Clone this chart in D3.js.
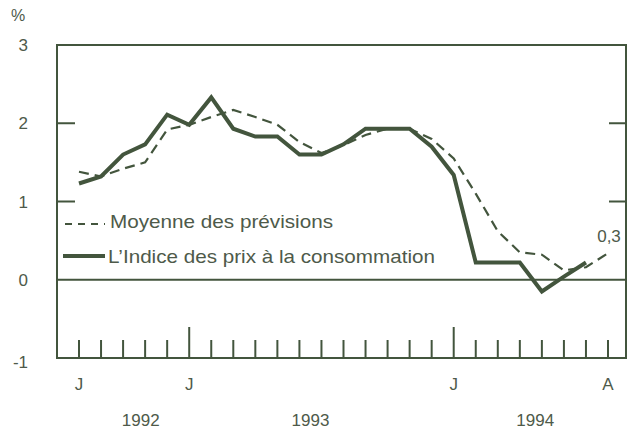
<!DOCTYPE html>
<html>
<head>
<meta charset='utf-8'>
<title>Indice des prix et prévisions</title>
<script src='https://d3js.org/d3.v7.min.js'></script>
<style>
  body {margin:0; background:#fff;}
  svg text {font-family:'Liberation Sans',Arial,sans-serif; fill:#4e5a4a;}
</style>
</head>
<body>
<svg id='chart' width='628' height='434'></svg>
<script>
// monthly values, index 0 = first tick
var cpi=[1.23,1.32,1.6,1.73,2.11,1.98,2.33,1.93,1.83,1.83,1.6,1.6,1.73,1.93,1.93,1.93,1.7,1.34,
         0.22,0.22,0.22,-0.15,0.04,0.22];
var forecast=[1.38,1.32,1.42,1.5,1.92,1.98,2.08,2.17,2.08,1.98,1.76,1.62,1.72,1.85,1.93,1.93,1.8,1.55,
              1.1,0.62,0.35,0.32,0.12,0.16,0.34];
var yTicks=[3,2,1,0,-1];
var monthLabels=[{i:0,t:'J'},{i:5,t:'J'},{i:17,t:'J'},{i:24,t:'A'}];
var yearLabels=[{i:2.8,t:'1992'},{i:10.5,t:'1993'},{i:20.7,t:'1994'}];
var bigTicks=[5,17];
var legendItems=['Moyenne des prévisions','L\u2019Indice des prix à la consommation'];

var ink='#43553d';
var svg=d3.select('#chart');
var x=d3.scaleLinear().domain([0,24]).range([79,608]);
var y=d3.scaleLinear().domain([-1,3]).range([358,45]);
var L=57,R=626;

// frame
svg.append('rect').attr('x',L).attr('y',y(3)).attr('width',R-L).attr('height',y(-1)-y(3))
   .attr('fill','none').attr('stroke',ink).attr('stroke-width',2);
// zero line
svg.append('line').attr('x1',L).attr('x2',R).attr('y1',y(0)).attr('y2',y(0))
   .attr('stroke',ink).attr('stroke-width',2);
// y ticks (inner, both sides)
[1,2].forEach(function(v){
  svg.append('line').attr('x1',L).attr('x2',L+18).attr('y1',y(v)).attr('y2',y(v))
     .attr('stroke',ink).attr('stroke-width',2);
  svg.append('line').attr('x1',R-17).attr('x2',R).attr('y1',y(v)).attr('y2',y(v))
     .attr('stroke',ink).attr('stroke-width',2);
});
svg.selectAll('.ylab').data(yTicks).enter().append('text')
   .attr('x',28).attr('y',function(d){return y(d)+(d<0?10:6);})
   .attr('text-anchor','end').attr('font-size',17).text(function(d){return d;});
svg.append('text').attr('x',11).attr('y',21).attr('font-size',16).text('%');

// month ticks along the bottom
svg.selectAll('.mt').data(d3.range(25)).enter().append('line')
   .attr('x1',function(d){return x(d);}).attr('x2',function(d){return x(d);})
   .attr('y1',y(-1)).attr('y2',function(d){return bigTicks.indexOf(d)>=0?y(-1)-31:y(-1)-18;})
   .attr('stroke',ink).attr('stroke-width',2);
svg.selectAll('.ml').data(monthLabels).enter().append('text')
   .attr('x',function(d){return x(d.i);}).attr('y',390)
   .attr('text-anchor','middle').attr('font-size',17).text(function(d){return d.t;});
svg.selectAll('.yl').data(yearLabels).enter().append('text')
   .attr('x',function(d){return x(d.i);}).attr('y',426)
   .attr('text-anchor','middle').attr('font-size',17).text(function(d){return d.t;});

// lines
var line=d3.line().x(function(d,i){return x(i);}).y(function(d){return y(d);});
svg.append('path').datum(forecast).attr('d',line).attr('fill','none')
   .attr('stroke',ink).attr('stroke-width',2.2).attr('stroke-dasharray','10,6');
svg.append('path').datum(cpi).attr('d',line).attr('fill','none')
   .attr('stroke',ink).attr('stroke-width',4).attr('stroke-linejoin','miter');
svg.append('text').attr('x',x(24)+1).attr('y',y(forecast[24])-11)
   .attr('text-anchor','middle').attr('font-size',17).text('0,3');

// legend
svg.append('line').attr('x1',65).attr('x2',105).attr('y1',224).attr('y2',224)
   .attr('stroke',ink).attr('stroke-width',2.2).attr('stroke-dasharray','7,6');
svg.append('line').attr('x1',63).attr('x2',105).attr('y1',256).attr('y2',256)
   .attr('stroke',ink).attr('stroke-width',4);
svg.append('text').attr('x',110).attr('y',228).attr('font-size',19)
   .attr('textLength',223).attr('lengthAdjust','spacingAndGlyphs').text(legendItems[0]);
svg.append('text').attr('x',108).attr('y',263).attr('font-size',19)
   .attr('textLength',327).attr('lengthAdjust','spacingAndGlyphs').text(legendItems[1]);
</script>
</body>
</html>
